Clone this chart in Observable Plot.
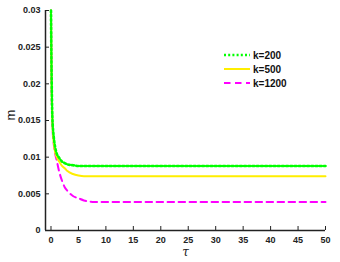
<!DOCTYPE html>
<html><head><meta charset="utf-8">
<script src="https://cdn.jsdelivr.net/npm/d3@7"></script>
<script src="https://cdn.jsdelivr.net/npm/@observablehq/plot@0.6"></script>
<style>
body{margin:0;background:#fff;font-family:"Liberation Sans",Arial,sans-serif;}
#wrap{position:relative;width:340px;height:262px;}
#legend{position:absolute;left:224px;top:48px;font:bold 10px "Liberation Sans",Arial,sans-serif;color:#111;}
#legend div{display:flex;align-items:center;height:14px;}
#legend svg{margin-right:3px;}
</style></head>
<body><div id="wrap"><div id="legend"></div></div>
<script>
const tau = [0, 0.1, 0.25, 0.5, 0.75, 1, 1.5, 2, 2.5, 3, 4, 5, 6, 8, 10, 15, 20, 30, 40, 50];
const k200 = [0.030, 0.022, 0.0155, 0.0128, 0.0114, 0.0106, 0.0099, 0.0094, 0.0092, 0.0090, 0.0089, 0.0088, 0.0088, 0.0088, 0.0088, 0.0088, 0.0088, 0.0088, 0.0088, 0.0088];
const k500 = [0.030, 0.021, 0.0150, 0.0120, 0.0107, 0.0101, 0.0094, 0.0088, 0.0085, 0.0081, 0.0077, 0.0075, 0.0074, 0.0074, 0.0074, 0.0074, 0.0074, 0.0074, 0.0074, 0.0074];
const k1200 = [0.030, 0.020, 0.0145, 0.0118, 0.0105, 0.0097, 0.0080, 0.0068, 0.0059, 0.0054, 0.0047, 0.0044, 0.0041, 0.0039, 0.0039, 0.0039, 0.0039, 0.0039, 0.0039, 0.0039];
const seriesNames = ["k=200", "k=500", "k=1200"];
const colors = ["#00ff00", "#ffee00", "#ff00ff"];
const dashes = ["2,2.2", null, "6.5,4.5"];
const widths = [2.6, 2, 2];
const xTicks = [0, 5, 10, 15, 20, 25, 30, 35, 40, 45, 50];
const yTicks = [0, 0.005, 0.01, 0.015, 0.02, 0.025, 0.03];
const xDomain = [-1, 50];
const yDomain = [0, 0.03];

const values = [k200, k500, k1200];
const series = values.map((v, i) => tau.map((t, j) => ({tau: t, m: v[j], k: seriesNames[i]})));

const chart = Plot.plot({
  width: 340, height: 262,
  marginLeft: 45, marginRight: 15, marginTop: 10, marginBottom: 32,
  style: {fontFamily: "'Liberation Sans', Arial, sans-serif", color: "#222", background: "#fff"},
  x: {domain: xDomain},
  y: {domain: yDomain},
  marks: [
    Plot.axisX({ticks: xTicks, tickSize: -4, tickPadding: 10, tickFormat: d => String(d), fontWeight: "bold", fontSize: 9, label: null}),
    Plot.axisY({ticks: yTicks, tickSize: -4, tickPadding: 9, tickFormat: d => String(d), fontWeight: "bold", fontSize: 9, label: null}),
    ...[2, 1, 0].map(i => Plot.line(series[i], {x: "tau", y: "m", stroke: colors[i], strokeWidth: widths[i], strokeDasharray: dashes[i], curve: "monotone-x"})),
    Plot.ruleX([xDomain[0]], {stroke: "#222", strokeWidth: 1.5}),
    Plot.ruleY([yDomain[0]], {stroke: "#222", strokeWidth: 1.5}),
    Plot.text(["τ"], {frameAnchor: "bottom", dy: 22, lineAnchor: "middle", fontStyle: "italic", fontSize: 12, fontFamily: "'DejaVu Serif', serif", fill: "#222"}),
    Plot.text(["m"], {frameAnchor: "left", dx: -35, rotate: -90, fontSize: 13, fill: "#222"})
  ]
});
document.getElementById("wrap").prepend(chart);

const leg = document.getElementById("legend");
seriesNames.forEach((name, i) => {
  const row = document.createElement("div");
  row.innerHTML = `<svg width="26" height="6"><line x1="0" y1="3" x2="26" y2="3" stroke="${colors[i]}" stroke-width="${widths[i]}" ${dashes[i] ? `stroke-dasharray="${dashes[i]}"` : ""}/></svg><span>${name}</span>`;
  leg.appendChild(row);
});
</script></body></html>
